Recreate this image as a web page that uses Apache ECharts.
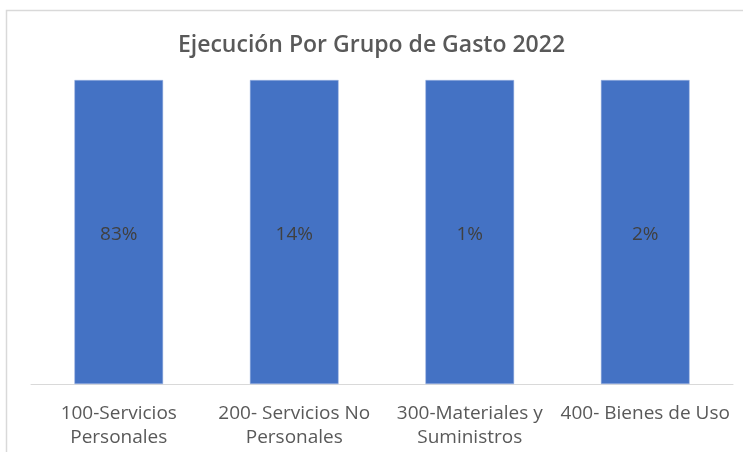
<!DOCTYPE html>
<html>
<head>
<meta charset="utf-8">
<script src="https://cdn.jsdelivr.net/npm/echarts@6/dist/echarts.min.js"></script>
<style>
  html, body { margin: 0; padding: 0; background: #fff; }
  #chart { width: 743px; height: 452px; }
</style>
</head>
<body>
<div id="chart"></div>
<script>
  // Categories (two-line labels as in the source chart)
  const categories = [
    '100-Servicios\nPersonales',
    '200- Servicios No\nPersonales',
    '300-Materiales y\nSuministros',
    '400- Bienes de Uso'
  ];
  // Bar height: each group drawn as a full (100%) bar
  const execution = [100, 100, 100, 100];
  // Share of total spending shown as label inside each bar
  const shareLabels = ['83%', '14%', '1%', '2%'];

  const FONT = '"Open Sans", Lato, sans-serif';
  const TEXT = '#595959';

  const chart = echarts.init(document.getElementById('chart'), null, { renderer: 'canvas' });

  chart.setOption({
    backgroundColor: '#fff',
    animation: false,
    title: {
      text: 'Ejecución Por Grupo de Gasto 2022',
      left: 'center',
      top: 29,
      textStyle: { fontFamily: FONT, fontSize: 23, fontWeight: 600, color: TEXT }
    },
    graphic: [{
      type: 'rect',
      shape: { x: 6.5, y: 10.5, width: 760, height: 460 },
      style: { fill: 'none', stroke: '#d9d9d9', lineWidth: 1.5 },
      silent: true
    }],
    grid: { left: 31, right: 10, top: 80, bottom: 68 },
    xAxis: {
      type: 'category',
      data: categories,
      axisLine: { lineStyle: { color: '#d9d9d9', width: 1 } },
      axisTick: { show: false },
      axisLabel: {
        interval: 0,
        margin: 18,
        fontFamily: FONT, fontSize: 19, color: TEXT, lineHeight: 24
      }
    },
    yAxis: {
      type: 'value',
      min: 0, max: 100,
      show: false
    },
    series: [{
      type: 'bar',
      data: execution,
      barWidth: '50.5%',
      itemStyle: { color: '#4472C4', borderColor: '#9db3e0', borderWidth: 0.5 },
      label: {
        show: true,
        position: 'inside',
        offset: [0, 3],
        fontFamily: FONT, fontSize: 19, color: '#404040',
        formatter: (p) => shareLabels[p.dataIndex]
      }
    }]
  });
</script>
</body>
</html>
